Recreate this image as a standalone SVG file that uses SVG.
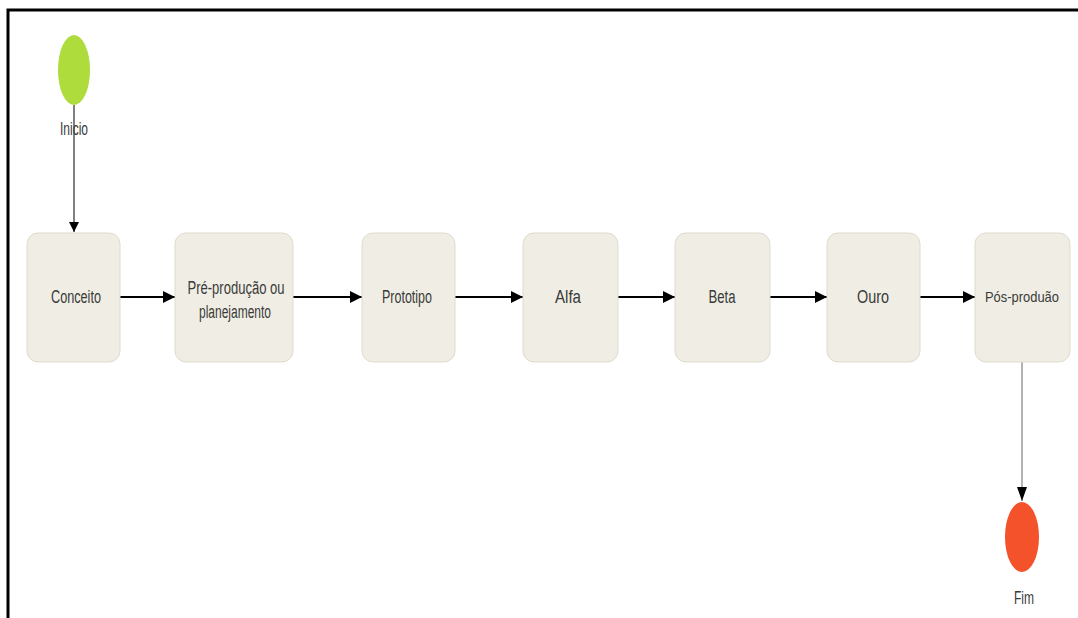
<svg xmlns="http://www.w3.org/2000/svg" width="1078" height="618" viewBox="0 0 1078 618">
  <style>
    .box { fill: #f0eee4; stroke: #dedbcd; stroke-width: 1; }
    .lbl { font-family: "Liberation Sans", Arial, sans-serif; font-size: 18px; fill: #3a3a3a; text-anchor: middle; }
    .lbl.sm { font-size: 15px; }
    .flow { stroke: #000; stroke-width: 2; fill: none; }
  </style>
  <defs>
    <marker id="arrow" viewBox="0 0 10 10" refX="10" refY="5" markerWidth="6" markerHeight="6" markerUnits="strokeWidth" orient="auto">
      <path d="M0,0 L10,5 L0,10 z" fill="#000"/>
    </marker>
    <marker id="arrowThin" viewBox="0 0 10 10" refX="10" refY="5" markerWidth="10" markerHeight="10" markerUnits="strokeWidth" orient="auto">
      <path d="M0,0 L10,5 L0,10 z" fill="#000"/>
    </marker>
  </defs>

  <rect width="1078" height="618" fill="#fff"/>
  <!-- frame -->
  <path d="M8,618 V10 H1078" fill="none" stroke="#000" stroke-width="3"/>

  <g id="connectors">
    <line x1="74" y1="105" x2="74" y2="232" stroke="#000" stroke-width="1" marker-end="url(#arrowThin)"/>
    <line class="flow" x1="120" y1="297" x2="175" y2="297" marker-end="url(#arrow)"/>
    <line class="flow" x1="293" y1="297" x2="362" y2="297" marker-end="url(#arrow)"/>
    <line class="flow" x1="455" y1="297" x2="523" y2="297" marker-end="url(#arrow)"/>
    <line class="flow" x1="618" y1="297" x2="675" y2="297" marker-end="url(#arrow)"/>
    <line class="flow" x1="770" y1="297" x2="827" y2="297" marker-end="url(#arrow)"/>
    <line class="flow" x1="920" y1="297" x2="975" y2="297" marker-end="url(#arrow)"/>
    <line x1="1022" y1="362" x2="1022" y2="501" stroke="#9a9a9a" stroke-width="1.5"/>
    <path d="M1017,487 L1027,487 L1022,501 z" fill="#000"/>
  </g>

  <g id="inicio">
    <ellipse cx="74" cy="70" rx="16" ry="35" fill="#aedc3c"/>
    <text class="lbl" x="74" y="135" textLength="28" lengthAdjust="spacingAndGlyphs">Inicio</text>
  </g>

  <g id="conceito">
    <rect class="box" x="27" y="233" width="93" height="129" rx="11"/>
    <text class="lbl" x="76" y="303" textLength="50" lengthAdjust="spacingAndGlyphs">Conceito</text>
  </g>

  <g id="pre-producao">
    <rect class="box" x="175" y="233" width="118" height="129" rx="11"/>
    <text class="lbl" x="236" y="294" textLength="97" lengthAdjust="spacingAndGlyphs">Pré-produção ou</text>
    <text class="lbl" x="235" y="318" textLength="72" lengthAdjust="spacingAndGlyphs">planejamento</text>
  </g>

  <g id="prototipo">
    <rect class="box" x="362" y="233" width="93" height="129" rx="11"/>
    <text class="lbl" x="407" y="303" textLength="50" lengthAdjust="spacingAndGlyphs">Prototipo</text>
  </g>

  <g id="alfa">
    <rect class="box" x="523" y="233" width="95" height="129" rx="11"/>
    <text class="lbl" x="568" y="303" textLength="26" lengthAdjust="spacingAndGlyphs">Alfa</text>
  </g>

  <g id="beta">
    <rect class="box" x="675" y="233" width="95" height="129" rx="11"/>
    <text class="lbl" x="722" y="303" textLength="27" lengthAdjust="spacingAndGlyphs">Beta</text>
  </g>

  <g id="ouro">
    <rect class="box" x="827" y="233" width="93" height="129" rx="11"/>
    <text class="lbl" x="873" y="303" textLength="32" lengthAdjust="spacingAndGlyphs">Ouro</text>
  </g>

  <g id="pos-producao">
    <rect class="box" x="975" y="233" width="95" height="129" rx="11"/>
    <text class="lbl sm" x="1022" y="302" textLength="74" lengthAdjust="spacingAndGlyphs">Pós-produão</text>
  </g>

  <g id="fim">
    <ellipse cx="1022" cy="537" rx="17" ry="35" fill="#f4522a"/>
    <text class="lbl" x="1024" y="604" textLength="20" lengthAdjust="spacingAndGlyphs">Fim</text>
  </g>
</svg>
